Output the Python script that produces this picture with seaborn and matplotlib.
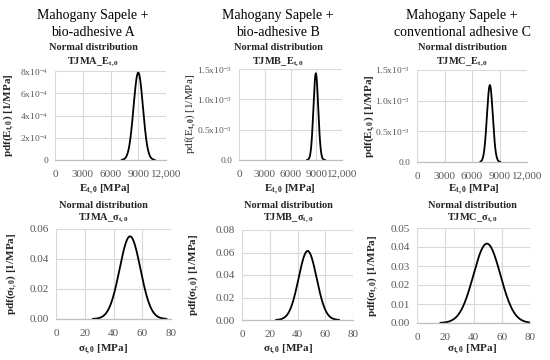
import numpy as np
import pandas as pd
import matplotlib
matplotlib.use('Agg')
import matplotlib.pyplot as plt
import seaborn as sns

# column headers and specimen codes
groups = ['Mahogany Sapele +\nbio-adhesive A',
          'Mahogany Sapele +\nbio-adhesive B',
          'Mahogany Sapele +\nconventional adhesive C']
codes = ['TJMA', 'TJMB', 'TJMC']

# normal fits: modulus E_t,0 [MPa]
e_mean = [9000, 8950, 7950]
e_sd = [508, 279, 318]
e_from = [7200, 7900, 6900]
e_to = [10800, 10050, 9100]

# tensile strength sigma_t,0 [MPa]
s_mean = [51.5, 47.3, 49.5]
s_sd = [7.24, 6.5, 9.55]
s_from = [25.5, 24.5, 16.5]
s_to = [77, 70, 80]

e_xticks = [0, 3000, 6000, 9000, 12000]
e_xticklabels = ['0', '3000', '6000', '9000', '12,000']
s_xticks = [0, 20, 40, 60, 80]

e_yticks = [[0, 2e-4, 4e-4, 6e-4, 8e-4],
            [0, 0.5e-3, 1.0e-3, 1.5e-3],
            [0, 0.5e-3, 1.0e-3, 1.5e-3]]
e_yticklabels = [['0', r'$2\mathrm{x}10^{-4}$', r'$4\mathrm{x}10^{-4}$',
                  r'$6\mathrm{x}10^{-4}$', r'$8\mathrm{x}10^{-4}$'],
                 ['0.0', r'$0.5\mathrm{x}10^{-3}$', r'$1.0\mathrm{x}10^{-3}$', r'$1.5\mathrm{x}10^{-3}$'],
                 ['0.0', r'$0.5\mathrm{x}10^{-3}$', r'$1.0\mathrm{x}10^{-3}$', r'$1.5\mathrm{x}10^{-3}$']]
s_yticks = [[0, 0.02, 0.04, 0.06],
            [0, 0.02, 0.04, 0.06, 0.08],
            [0, 0.01, 0.02, 0.03, 0.04, 0.05]]

sns.set_theme(style='white')
plt.rcParams['font.family'] = ['Liberation Serif', 'DejaVu Serif']
plt.rcParams['mathtext.fontset'] = 'custom'
plt.rcParams['mathtext.rm'] = 'Liberation Serif'
plt.rcParams['mathtext.bf'] = 'Liberation Serif:bold'
plt.rcParams['mathtext.it'] = 'Liberation Serif:italic'

W, H = 550, 360
fig = plt.figure(figsize=(5.5, 3.6), dpi=100)


def px(x, y):
    return x / W, 1 - y / H


def add_ax(l, t, r, b):
    return fig.add_axes([l / W, 1 - b / H, (r - l) / W, (b - t) / H])


# axes boxes in pixels: left, top, right, bottom
top_boxes = [(55, 71, 166, 160), (239, 69, 342, 160), (417, 70, 527, 162)]
bot_boxes = [(56, 229, 171, 319), (242, 230, 353, 320), (417, 228, 530, 323)]
col_x = [93, 278, 462]


def normal_df(mu, sd, lo, hi):
    x = np.linspace(lo, hi, 300)
    pdf = np.exp(-0.5 * ((x - mu) / sd) ** 2) / (sd * np.sqrt(2 * np.pi))
    return pd.DataFrame({'x': x, 'pdf': pdf})


def style(ax, xticks, xlabels, yticks, ylabels, ysize=8):
    ax.set_xlim(xticks[0], xticks[-1])
    ax.set_ylim(yticks[0], yticks[-1])
    ax.set_xticks(xticks)
    ax.set_xticklabels(xlabels)
    ax.set_yticks(yticks)
    ax.set_yticklabels(ylabels)
    ax.grid(True, color='#d9d9d9', lw=0.8)
    for s in ['top', 'right', 'left']:
        ax.spines[s].set_visible(False)
    ax.spines['bottom'].set_color('#bfbfbf')
    ax.spines['bottom'].set_linewidth(0.9)
    ax.tick_params(axis='x', length=0, labelsize=8, labelcolor='#595959', pad=7)
    ax.tick_params(axis='y', length=0, labelsize=ysize, labelcolor='#595959', pad=5)
    ax.set_xlabel('')
    ax.set_ylabel('')
    ax.set_facecolor('white')


for i in range(3):
    # modulus of elasticity
    ax = add_ax(*top_boxes[i])
    df = normal_df(e_mean[i], e_sd[i], e_from[i], e_to[i])
    sns.lineplot(data=df, x='x', y='pdf', ax=ax, color='black', lw=1.3)
    style(ax, e_xticks, e_xticklabels, e_yticks[i], e_yticklabels[i], ysize=6.8)

    # tensile strength
    ax = add_ax(*bot_boxes[i])
    df = normal_df(s_mean[i], s_sd[i], s_from[i], s_to[i])
    sns.lineplot(data=df, x='x', y='pdf', ax=ax, color='black', lw=1.3)
    style(ax, s_xticks, [str(v) for v in s_xticks], s_yticks[i],
          ['%.2f' % v for v in s_yticks[i]])

    cx = col_x[i]
    fig.text(*px(cx, 24), groups[i], ha='center', va='center', fontsize=10,
             linespacing=1.4, color='black')

    tl, tt, tr, tb = top_boxes[i]
    fig.text(*px(cx, 48), 'Normal distribution', ha='center', va='center',
             fontsize=7.5, fontweight='bold')
    fig.text(*px(cx, 62), codes[i] + r'_E$_{\mathbf{t,0}}$', ha='center', va='center',
             fontsize=7.5, fontweight='bold')
    fig.text(*px(cx + 12, 190), r'E$_{\mathbf{t,0}}$ [MPa]', ha='center', va='center',
             fontsize=8, fontweight='bold')

    bl, bt, br, bb = bot_boxes[i]
    fig.text(*px(cx + 10, 205), 'Normal distribution', ha='center', va='center',
             fontsize=7.5, fontweight='bold')
    fig.text(*px(cx + 10, 218), codes[i] + r'_σ$_{\mathbf{t,0}}$', ha='center', va='center',
             fontsize=7.5, fontweight='bold')
    fig.text(*px(cx + 10, 350), r'σ$_{\mathbf{t,0}}$ [MPa]', ha='center', va='center',
             fontsize=8, fontweight='bold')

    ylx = [9, 191, 370][i]
    fig.text(*px(ylx, (tt + tb) / 2), r'pdf(E$_{\mathbf{t,0}}$) [1/MPa]', rotation=90,
             ha='center', va='center', fontsize=8,
             fontweight='normal' if i == 1 else 'bold')
    fig.text(*px(ylx + 3, (bt + bb) / 2), r'pdf(σ$_{\mathbf{t,0}}$) [1/MPa]', rotation=90,
             ha='center', va='center', fontsize=8, fontweight='bold')

fig.savefig('out.png', dpi=100, facecolor='white')
